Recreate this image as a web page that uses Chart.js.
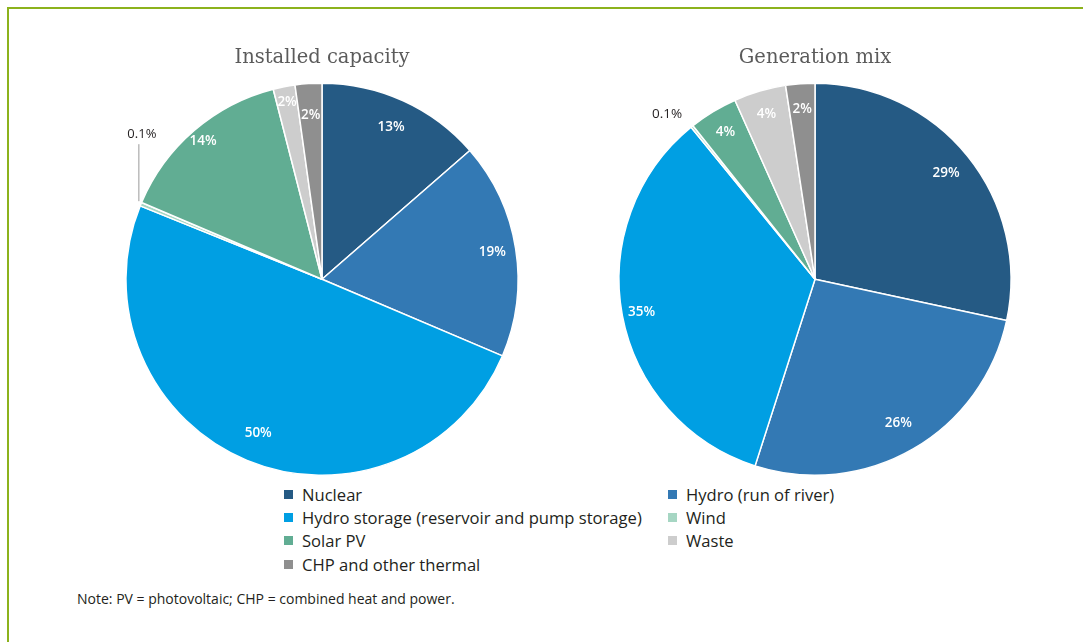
<!DOCTYPE html>
<html>
<head>
<meta charset="utf-8">
<script src="https://cdn.jsdelivr.net/npm/chart.js@4"></script>
<style>
  body { margin: 0; background: #fff; width: 1083px; height: 642px; position: relative; overflow: hidden; }
  .frame-top { position: absolute; left: 7px; top: 7px; width: 1076px; height: 2px; background: #8cb21c; }
  .frame-left { position: absolute; left: 7px; top: 7px; width: 2px; height: 635px; background: #8cb21c; }
  .pie { position: absolute; width: 444px; height: 439px; top: 37px; }
  #legend { position: absolute; left: 284px; top: 483px; display: grid; grid-template-columns: 384px auto;
            font-family: "Open Sans", sans-serif; font-size: 16.6px; color: #231f20; }
  #legend div { display: flex; align-items: center; height: 23.2px; line-height: 23px; white-space: nowrap; }
  #legend span.box { width: 9px; height: 9px; margin-right: 9px; display: inline-block; flex: none; }
  #note { position: absolute; left: 77px; top: 589px; font-family: "Open Sans", sans-serif; font-size: 14px; color: #231f20; }
</style>
</head>
<body>
<div class="frame-top"></div>
<div class="frame-left"></div>
<div class="pie" style="left:100px"><canvas id="capacityChart"></canvas></div>
<div class="pie" style="left:593px"><canvas id="generationChart"></canvas></div>
<div id="legend"></div>
<div id="note">Note: PV = photovoltaic; CHP = combined heat and power.</div>
<script>
// categories and colours
const categories = ["Nuclear", "Hydro (run of river)", "Hydro storage (reservoir and pump storage)", "Wind", "Solar PV", "Waste", "CHP and other thermal"];
const colors = ["#255a84", "#3379b4", "#009fe3", "#a6d6c3", "#61ad93", "#cdcdcd", "#8f8f8f"];

// Installed capacity (slice sizes, printed labels as shown)
const capacityValues = [13.6, 17.8, 49.7, 0.3, 14.6, 1.8, 2.2];
const capacityLabels = ["13%", "19%", "50%", "0.1%", "14%", "2%", "2%"];

// Generation mix
const generationValues = [28.4, 26.6, 34.2, 0.2, 4.0, 4.3, 2.4];
const generationLabels = ["29%", "26%", "35%", "0.1%", "4%", "4%", "2%"];

// label distance from centre, as a share of the radius
const capacityLabelRadius = [0.85, 0.88, 0.85, 0, 0.93, 0.92, 0.84];
const generationLabelRadius = [0.86, 0.85, 0.9, 1.08, 0.88, 0.88, 0.87];

const sliceLabels = {
    id: 'sliceLabels',
    afterDatasetsDraw(chart, args, opts) {
        const ctx = chart.ctx;
        const arcs = chart.getDatasetMeta(0).data;
        ctx.save();
        ctx.textBaseline = 'middle';
        arcs.forEach((arc, i) => {
            const p = arc.getProps(['x', 'y', 'startAngle', 'endAngle', 'outerRadius'], true);
            const mid = (p.startAngle + p.endAngle) / 2;
            const text = opts.texts[i];
            if (i === opts.callout) {
                // small slice: leader line going straight up, label above it
                const ex = p.x + p.outerRadius * Math.cos(mid);
                const ey = p.y + p.outerRadius * Math.sin(mid);
                ctx.strokeStyle = '#9a9a9a';
                ctx.lineWidth = 1;
                ctx.beginPath();
                ctx.moveTo(ex - 2, ey - 3);
                ctx.lineTo(ex - 2, ey - 60);
                ctx.stroke();
                ctx.fillStyle = '#231f20';
                ctx.textAlign = 'center';
                ctx.font = '13px "Open Sans", sans-serif';
                ctx.fillText(text, ex + 1, ey - 70);
                return;
            }
            const r = p.outerRadius * opts.radius[i];
            const outside = r > p.outerRadius;
            ctx.fillStyle = outside ? '#231f20' : '#ffffff';
            ctx.textAlign = outside ? 'right' : 'center';
            ctx.font = (outside ? '' : '600 ') + '13.5px "Open Sans", sans-serif';
            ctx.fillText(text, p.x + r * Math.cos(mid), p.y + r * Math.sin(mid));
        });
        ctx.restore();
    }
};

function makePie(id, title, values, texts, radius, callout) {
    return new Chart(document.getElementById(id), {
        type: 'pie',
        data: {
            labels: categories,
            datasets: [{
                data: values,
                backgroundColor: colors,
                borderColor: '#ffffff',
                borderWidth: 1.5
            }]
        },
        options: {
            responsive: true,
            maintainAspectRatio: false,
            animation: false,
            plugins: {
                legend: { display: false },
                tooltip: { enabled: false },
                title: {
                    display: true,
                    text: title,
                    color: '#5b5b5b',
                    font: { family: '"DejaVu Serif", serif', size: 19.5, weight: 'normal' },
                    padding: { top: 9, bottom: 13 }
                },
                sliceLabels: { texts: texts, radius: radius, callout: callout }
            }
        },
        plugins: [sliceLabels]
    });
}

makePie('capacityChart', 'Installed capacity', capacityValues, capacityLabels, capacityLabelRadius, 3);
makePie('generationChart', 'Generation mix', generationValues, generationLabels, generationLabelRadius, -1);

// legend, two columns
const legend = document.getElementById('legend');
categories.forEach((name, i) => {
    const item = document.createElement('div');
    item.innerHTML = '<span class="box" style="background:' + colors[i] + '"></span>' + name;
    legend.appendChild(item);
});
</script>
</body>
</html>
